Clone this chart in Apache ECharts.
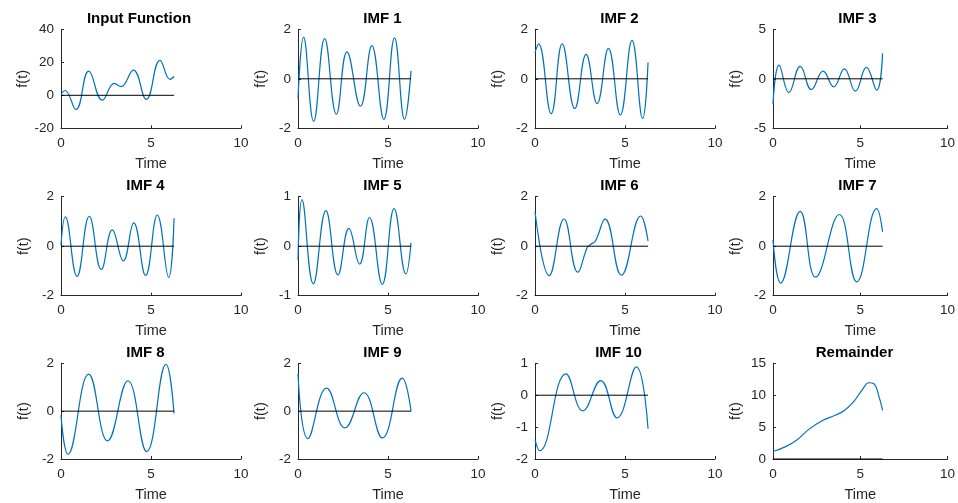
<!DOCTYPE html>
<html>
<head>
<meta charset="utf-8">
<script src="https://cdn.jsdelivr.net/npm/echarts@6/dist/echarts.min.js"></script>
<style>
html,body{margin:0;padding:0;background:#fff;}
#chart{width:958px;height:503px;}
</style>
</head>
<body>
<div id="chart"></div>
<script>
// ---- data ----
const panelTitles = ['Input Function','IMF 1','IMF 2','IMF 3','IMF 4','IMF 5','IMF 6','IMF 7','IMF 8','IMF 9','IMF 10','Remainder'];
const yMins = [-20,-2,-2,-5,-2,-1,-2,-2,-2,-2,-2,0];
const yMaxs = [40,2,2,5,2,1,2,2,2,2,1,15];
const yIntervals = [20,2,2,5,2,1,2,2,2,2,1,5];
const xTicks = [0,5,10];
const zeroLineT = [0, 6.2832];

const inputFunction = [[0,0.5],[0.22,2.9],[0.83,-8.6],[1.54,14.7],[2.3,-2.9],[2.96,7.2],[3.33,5.2],[4.02,15.3],[4.74,-2.5],[5.5,21.2],[6.06,9.6],[6.28,11.4]];
const imf1 = [[0,-0.8],[0.31,1.68],[0.87,-1.72],[1.48,1.62],[2.13,-1.43],[2.72,1.09],[3.47,-1.11],[4.1,1.34],[4.77,-1.64],[5.36,1.65],[5.92,-1.64],[6.28,0.32]];
const imf2 = [[0,1.07],[0.2,1.41],[0.9,-1.41],[1.51,1.41],[2.21,-1.2],[2.84,0.99],[3.45,-1.0],[4.08,1.23],[4.74,-1.46],[5.39,1.55],[5.98,-1.61],[6.28,0.66]];
const imf3 = [[0,-2.57],[0.35,1.39],[0.91,-1.39],[1.56,1.25],[2.2,-1.08],[2.87,0.78],[3.48,-0.81],[4.09,1.01],[4.72,-1.25],[5.35,1.15],[5.94,-1.15],[6.28,2.57]];
const imf4 = [[0,0.05],[0.24,1.19],[0.89,-1.22],[1.57,1.21],[2.24,-0.94],[2.85,0.66],[3.46,-0.59],[4.04,0.94],[4.7,-1.18],[5.35,1.26],[5.98,-1.26],[6.28,1.13]];
const imf5 = [[0,-0.28],[0.22,0.94],[0.85,-0.76],[1.55,0.72],[2.22,-0.58],[2.83,0.36],[3.42,-0.36],[3.97,0.58],[4.68,-0.77],[5.34,0.76],[5.99,-0.56],[6.28,0.07]];
const imf6 = [[0,1.4],[0.79,-1.19],[1.61,1.1],[2.38,-1.05],[2.9,-0.05],[3.1,0.08],[3.35,0.2],[3.89,1.09],[4.8,-1.17],[5.87,1.22],[6.28,0.21]];
const imf7 = [[0,0.26],[0.44,-1.49],[1.56,1.41],[2.44,-1.25],[3.8,1.28],[4.8,-1.44],[5.94,1.52],[6.28,0.58]];
const imf8 = [[0,-0.17],[0.39,-1.8],[1.54,1.55],[2.59,-1.24],[3.72,1.27],[4.76,-1.69],[5.83,1.96],[6.28,-0.1]];
const imf9 = [[0,1.55],[0.55,-1.15],[1.59,0.96],[2.61,-0.7],[3.66,0.77],[4.69,-1.12],[5.79,1.38],[6.28,0.0]];
const imf10 = [[0,-1.39],[0.26,-1.74],[1.72,0.67],[2.66,-0.49],[3.65,0.46],[4.56,-0.71],[5.63,0.89],[6.28,-1.05]];
const remainder = [[0,1.17],[0.59,1.78],[1.33,2.9],[2.07,4.68],[2.81,6.0],[3.56,6.86],[4.11,7.63],[4.67,9.15],[5.13,10.93],[5.5,11.95],[5.78,11.8],[6.06,9.9],[6.28,7.63]];
const curves = [inputFunction, imf1, imf2, imf3, imf4, imf5, imf6, imf7, imf8, imf9, imf10, remainder];

// ---- layout ----
const gridLefts = [61, 298, 535, 773];
const gridTops = [29.3, 196.7, 363.3];
const gridW = 180, gridH = 99;
const titleShift = [-12, -5.5, -5.5, -5.5, -5.5, -5.5, -5.5, -5.5, -5.5, -5.5, -6.5, -8.5];
const FONT = '"Liberation Sans", Arial, Helvetica, sans-serif';
const AX = '#262626';

const grids = [], xAxes = [], yAxes = [], series = [], texts = [];
for (let i = 0; i < 12; i++) {
  const r = Math.floor(i / 4), c = i % 4;
  grids.push({left: gridLefts[c], top: gridTops[r], width: gridW, height: gridH, containLabel: false});
  xAxes.push({
    gridIndex: i, type: 'value', min: xTicks[0], max: xTicks[xTicks.length-1], interval: xTicks[1]-xTicks[0],
    name: 'Time', nameLocation: 'middle', nameGap: 28,
    nameTextStyle: {fontFamily: FONT, fontSize: 14.5, color: AX},
    axisLine: {show: true, onZero: false, lineStyle: {color: AX, width: 1}},
    axisTick: {show: true, inside: true, length: 3, lineStyle: {color: AX}},
    axisLabel: {fontFamily: FONT, fontSize: 13.5, color: AX, margin: 8},
    splitLine: {show: false}
  });
  yAxes.push({
    gridIndex: i, type: 'value', min: yMins[i], max: yMaxs[i], interval: yIntervals[i],
    name: 'f(t)', nameLocation: 'middle', nameGap: 30, nameRotate: 90,
    nameTextStyle: {fontFamily: FONT, fontSize: 14.5, color: AX},
    axisLine: {show: true, onZero: false, lineStyle: {color: AX, width: 1}},
    axisTick: {show: true, inside: true, length: 3, lineStyle: {color: AX}},
    axisLabel: {fontFamily: FONT, fontSize: 13.5, color: AX, margin: 7},
    splitLine: {show: false}
  });
  texts.push({
    type: 'text', x: gridLefts[c] + gridW / 2 + titleShift[i], y: gridTops[r] - 10.8, silent: true,
    style: {text: panelTitles[i], font: 'bold 15px ' + FONT, fill: '#000', textAlign: 'center', textVerticalAlign: 'middle'}
  });
  series.push({
    type: 'line', xAxisIndex: i, yAxisIndex: i, data: curves[i], showSymbol: false,
    smooth: 0.45, lineStyle: {color: '#0072BD', width: 1.2}, itemStyle: {color: '#0072BD'}, z: 2, silent: true
  });
  series.push({
    type: 'line', xAxisIndex: i, yAxisIndex: i, data: zeroLineT.map(t => [t, 0]), showSymbol: false,
    lineStyle: {color: '#000', width: 1}, z: 3, silent: true
  });
}

const chart = echarts.init(document.getElementById('chart'), null, {renderer: 'canvas'});
chart.setOption({
  animation: false,
  backgroundColor: '#fff',
  graphic: texts,
  grid: grids,
  xAxis: xAxes,
  yAxis: yAxes,
  series: series
});
</script>
</body>
</html>
